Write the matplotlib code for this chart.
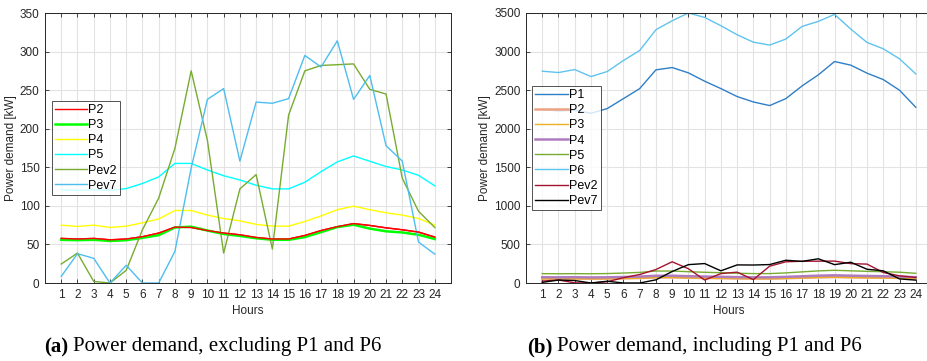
import matplotlib
matplotlib.use("Agg")
import matplotlib.pyplot as plt
import numpy as np

hours = list(range(1, 25))
hour_labels = [str(h) for h in hours]

P1 = [2250, 2230, 2240, 2200, 2261, 2390, 2520, 2763, 2793, 2724, 2616, 2520,
      2417, 2347, 2300, 2390, 2555, 2698, 2871, 2824, 2720, 2637, 2499, 2278]
P2 = [57.8, 57, 57.8, 56, 57, 60, 64.7, 72.4, 72, 68, 64.7, 62.5,
      59, 57, 57, 61.6, 68, 73, 77, 74.6, 71.5, 69, 66, 59.5]
P3 = [56, 55.5, 56, 54.5, 55.5, 58.5, 62, 72, 73, 68, 63.5, 61,
      58, 56, 56, 59.5, 66, 72.5, 75.5, 70.5, 67, 65.5, 62.5, 57]
P4 = [75, 73.3, 75, 72, 73.7, 78, 83, 94, 94, 88, 83.6, 80.6,
      76, 73.7, 73.7, 79.7, 87, 95, 99.6, 95, 91, 88, 83.6, 75]
P5 = [121, 120, 121, 120, 122.4, 129, 137.5, 155, 155, 146.5, 139, 133.6,
      126.7, 122, 122, 130.6, 144.4, 157, 164.7, 157.8, 151, 146.5, 139.6, 126]
P6 = [2746, 2728, 2767, 2676, 2741, 2884, 3014, 3283, 3400, 3500, 3443, 3335,
      3218, 3122, 3084, 3162, 3326, 3391, 3482, 3291, 3118, 3036, 2906, 2711]
Pev2 = [24.6, 38.8, 2, 0, 16.4, 69, 110, 174.6, 275, 185, 38.8, 122,
        140.5, 44, 217.7, 275, 282, 283, 284, 251, 245, 135.8, 93, 72]
Pev7 = [8.6, 38, 32, 0, 23, 0, 0, 41, 149, 238, 252, 158,
        234.5, 233, 239, 295, 280, 314, 238, 269, 178, 158, 53, 37.5]

plt.rcParams['font.family'] = ['Liberation Sans', 'DejaVu Sans']

fig = plt.figure(figsize=(9.27, 3.61), dpi=100)
W, H = 927, 361


def style_ax(ax, ymax, ystep):
    ax.set_xlim(0, 25)
    ax.set_ylim(0, ymax)
    ax.set_xticks(hours)
    ax.set_xticklabels(hour_labels)
    ax.set_yticks(np.arange(0, ymax + 1, ystep))
    ax.grid(True, color='#e3e3e3', linewidth=0.8)
    ax.set_axisbelow(True)
    ax.tick_params(direction='in', top=True, right=True, length=3,
                   labelsize=8.5, colors='#262626', width=0.6, pad=4)
    for s in ax.spines.values():
        s.set_color('#262626')
        s.set_linewidth(0.7)
    ax.set_xlabel('Hours', fontsize=8.5, color='#262626', labelpad=3)
    ax.set_ylabel('Power demand [kW]', fontsize=8.5, color='#262626', labelpad=2)


# left axes: x 45..451, y 13..283
ax1 = fig.add_axes([45 / W, 1 - 283 / H, 406 / W, 270 / H])
ax1.plot(hours, P2, color='#ff0000', lw=1.0, label='P2')
ax1.plot(hours, P3, color='#00ff00', lw=1.8, label='P3')
ax1.plot(hours, P4, color='#ffff00', lw=1.0, label='P4')
ax1.plot(hours, P5, color='#00ffff', lw=1.0, label='P5')
ax1.plot(hours, Pev2, color='#77AC30', lw=1.0, label='Pev2')
ax1.plot(hours, Pev7, color='#4DBEEE', lw=1.0, label='Pev7')
ax1.plot(hours, P2, color='#ff0000', lw=1.0)
style_ax(ax1, 350, 50)
leg1 = ax1.legend(loc='upper left', bbox_to_anchor=(6.5 / 406, (283 - 101) / 270),
                  fontsize=9, frameon=True, fancybox=False, edgecolor='#262626',
                  handlelength=2.6, handletextpad=0.1, borderpad=0.25,
                  labelspacing=0.25, borderaxespad=0)
leg1.get_frame().set_linewidth(0.7)

# right axes: x 526..932, y 13..283
ax2 = fig.add_axes([526 / W, 1 - 283 / H, 406 / W, 270 / H])
ax2.plot(hours, P1, color='#2f7fc6', lw=1.0, label='P1')
ax2.plot(hours, P2, color='#eda283', lw=1.8, label='P2')
ax2.plot(hours, P3, color='#EDB120', lw=1.0, label='P3')
ax2.plot(hours, P4, color='#b07cc0', lw=1.8, label='P4')
ax2.plot(hours, P5, color='#77AC30', lw=1.0, label='P5')
ax2.plot(hours, P6, color='#5fc3ef', lw=1.0, label='P6')
ax2.plot(hours, Pev2, color='#A2142F', lw=1.0, label='Pev2')
ax2.plot(hours, Pev7, color='#000000', lw=1.0, label='Pev7')
style_ax(ax2, 3500, 500)
leg2 = ax2.legend(loc='upper left', bbox_to_anchor=(6 / 406, (283 - 86) / 270),
                  fontsize=9, frameon=True, fancybox=False, edgecolor='#262626',
                  handlelength=2.6, handletextpad=0.1, borderpad=0.25,
                  labelspacing=0.25, borderaxespad=0)
leg2.get_frame().set_linewidth(0.7)

# captions
cap_font = ['Liberation Serif', 'DejaVu Serif']
renderer = fig.canvas.get_renderer()


def caption(x_px, tag, rest):
    t1 = fig.text(x_px / W, 1 - 347 / H, tag, fontsize=15, fontweight='bold',
                  family=cap_font, va='center', ha='left')
    bb = t1.get_window_extent(renderer=renderer)
    fig.text((bb.x1 + 4.5) / W, 1 - 347 / H, rest, fontsize=15,
             family=cap_font, va='center', ha='left')


caption(44, '(a)', 'Power demand, excluding P1 and P6')
caption(527, '(b)', 'Power demand, including P1 and P6')

fig.savefig('out.png', dpi=100)
